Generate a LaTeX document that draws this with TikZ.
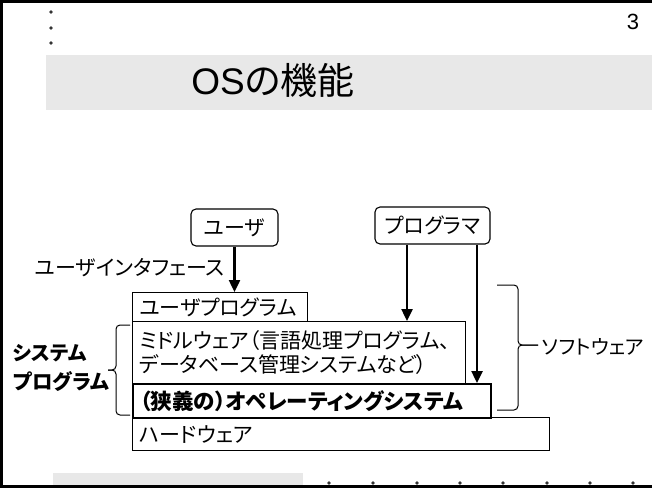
\documentclass[tikz,border=0pt]{standalone}
\usepackage{fontspec}
\setmainfont{Liberation Sans}
\newfontfamily\jp[RawFeature=+palt]{Noto Sans CJK JP}
\usetikzlibrary{arrows.meta}
\definecolor{band}{HTML}{E8E8E8}
\begin{document}
\begin{tikzpicture}[x=1pt,y=-1pt,
  txt/.style={font=\jp\fontsize{21}{24}\selectfont, inner sep=0pt},
  layer/.style={draw, line width=1.1pt, anchor=north west, inner xsep=7pt, inner ysep=0pt,
     align=left, font=\jp\fontsize{21}{24}\selectfont},
  actor/.style={draw, line width=1.1pt, rounded corners=5pt, inner sep=0pt,
     font=\jp\fontsize{21}{24}\selectfont},
  arr/.style={line width=2.4pt, -{Triangle[length=12pt,width=11pt]}},
  brace/.style={line width=1pt, rounded corners=4pt},
  dot/.style={circle, fill=black!80, inner sep=0pt, minimum size=3.8pt}]
\useasboundingbox (0,0) rectangle (652,488);
% frame and bands
\fill[band] (46,55) rectangle (652,110);
\fill[band] (53,473) rectangle (303,486);
\draw[line width=3pt] (652,1.5) -- (1.5,1.5) -- (1.5,486.5) -- (652,486.5);
\foreach \i/\y in {1/12,2/28,3/43} \node[dot] (ld\i) at (51,\y) {};
\foreach \i/\x in {1/329,2/373,3/417,4/460,5/503,6/547,7/590,8/633} \node[dot] (bd\i) at (\x,483) {};
\node (num) at (633,22) {\fontsize{22}{24}\selectfont 3};
\node (title) at (273,80) {\fontsize{37}{40}\selectfont OS\jp の機能};
% layers
\node[layer, minimum width=417pt, minimum height=33pt, text width=403pt] (hw) at (132,417) {ハードウェア};
\node[layer, line width=2pt, minimum width=358pt, minimum height=34pt, text width=344pt, font=\jp\bfseries\fontsize{21.5}{24}\selectfont] (os) at (132,383) {（狭義の）オペレーティングシステム};
\node[layer, minimum width=333pt, minimum height=62pt, text width=319pt] (mid) at (132,321) {ミドルウェア（言語処理プログラム、\\データベース管理システムなど）};
\node[layer, minimum width=175pt, minimum height=29pt, text width=161pt] (up) at (132,292) {ユーザプログラム};
% actors
\node[actor, minimum width=87pt, minimum height=37pt] (user) at (234.5,227.5) {ユーザ};
\node[actor, minimum width=115pt, minimum height=37pt] (prog) at (432.5,225.5) {プログラマ};
% arrows
\draw[arr] (user.south) -- (user.south |- up.north);
\coordinate (p1) at ([xshift=-25.5pt]prog.south);
\coordinate (p2) at ([xshift=44.5pt]prog.south);
\draw[arr] (p1) -- (p1 |- mid.north);
\draw[arr] (p2) -- (p2 |- os.north);
% labels
\node[txt, anchor=west] (ui) at (35,268) {ユーザインタフェース};
\node[txt, anchor=west, font=\jp\fontsize{20}{24}\selectfont] (sw) at (542,347) {ソフトウェア};
\node[txt, anchor=west, font=\jp\bfseries\fontsize{20}{24}\selectfont] (sp1) at (13,353) {システム};
\node[txt, anchor=west, font=\jp\bfseries\fontsize{20.5}{24}\selectfont] (sp2) at (13,382) {プログラム};
% braces
\draw[brace] (497,285) -- (518,285) -- (518,345) -- (538,345);
\draw[brace] (497,410) -- (518,410) -- (518,345) -- (538,345);
\draw[brace] (130,325) -- (116,325) -- (116,370) -- (108,370);
\draw[brace] (130,415) -- (116,415) -- (116,370) -- (108,370);
\end{tikzpicture}
\end{document}
